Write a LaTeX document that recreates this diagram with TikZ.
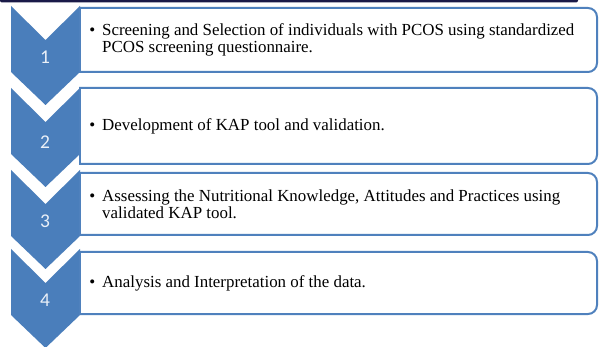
\documentclass[tikz,border=0pt]{standalone}
\usepackage{fontspec}
\setmainfont{Liberation Serif}
\newfontfamily\numfont{Carlito}
\definecolor{chev}{HTML}{4A7EBB}
\definecolor{boxline}{HTML}{4F81BD}
\definecolor{navy}{HTML}{1A1A48}
\definecolor{numcol}{HTML}{EAF0F8}
\tikzset{
  chevfill/.style={fill=chev, draw=none},
  boxedge/.style={draw=boxline, line width=2pt, rounded corners=9pt, line cap=rect},
  boxleft/.style={draw=boxline, line width=2pt, line cap=rect},
  numlabel/.style={font=\numfont\fontsize{19.5}{19.5}\selectfont, text=numcol, inner sep=0pt},
  itemtext/.style={font=\fontsize{16.9}{17}\selectfont, anchor=west, align=left, inner sep=0pt, text=black}
}
\newcommand\chevronat[1]{%
  \fill[chevfill] (11,#1) -- (45.5,#1+34) -- (80,#1) -- (80,#1+66) -- (45.5,#1+99) -- (11,#1+66) -- cycle;}
\newcommand\itembox[2]{%
  \draw[boxedge] (80,#1) -- (597,#1) -- (597,#2) -- (80,#2);
  \draw[boxleft] (80,#1) -- (80,#2);}
\begin{document}
\begin{tikzpicture}[x=1pt,y=-1pt]
\useasboundingbox (0,0) rectangle (602,347);
\fill[white] (0,0) rectangle (602,347);
% top bar
\fill[navy, rounded corners=2pt] (0,-3) -- (578,-3) -- (578,2.5) -- (0,2.5) -- cycle;
% chevrons
\chevronat{6}
\chevronat{88}
\chevronat{170}
\chevronat{249}
% boxes
\itembox{8}{72}
\itembox{88}{164}
\itembox{173}{235}
\itembox{252}{314}
% numbers
\node[numlabel] (n1) at (45,57) {1};
\node[numlabel] (n2) at (45,142.5) {2};
\node[numlabel] (n3) at (45,221.5) {3};
\node[numlabel] (n4) at (45,300) {4};
% texts
\node[itemtext] (t1) at (102,40) {\llap{\textbullet\hspace{7pt}}Screening and Selection of individuals with PCOS using standardized\\PCOS screening questionnaire.};
\node[itemtext] (t2) at (102,126) {\llap{\textbullet\hspace{7pt}}Development of KAP tool and validation.};
\node[itemtext] (t3) at (102,204) {\llap{\textbullet\hspace{7pt}}Assessing the Nutritional Knowledge, Attitudes and Practices using\\validated KAP tool.};
\node[itemtext] (t4) at (102,283) {\llap{\textbullet\hspace{7pt}}Analysis and Interpretation of the data.};
\end{tikzpicture}
\end{document}
